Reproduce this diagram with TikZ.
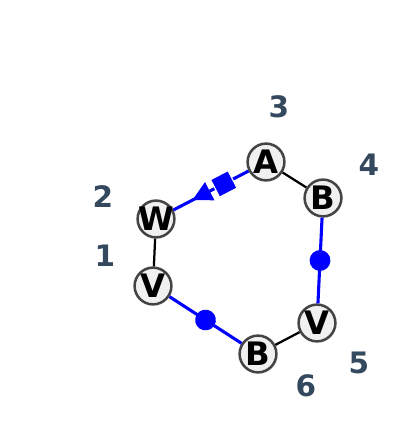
\documentclass[tikz,border=0pt]{standalone}
\usepackage{fontspec}
\setmainfont{DejaVu Sans}
\usepackage{tikz}
\usetikzlibrary{arrows.meta,positioning,decorations.markings}
\definecolor{slate}{HTML}{34495E}
\definecolor{ringgray}{HTML}{444444}
\newcommand{\atomtxt}[1]{\makebox[0pt]{#1}}
\begin{document}
\begin{tikzpicture}
[atom/.style={circle,draw=ringgray,fill=gray!12,line width=1.8pt,minimum size=0.92cm,inner sep=0pt,font=\fontsize{23}{23}\selectfont\bfseries},
 num/.style={text=slate,font=\fontsize{21}{21}\selectfont\bfseries},
 plain/.style={line width=1.6pt},
 dotbond/.style={blue,line width=2.2pt,postaction={decorate},
   decoration={markings,mark=at position 0.5 with {\fill (0,0) circle (0.26cm);}}},
 wedgebond/.style={blue,line width=2.2pt,postaction={decorate},
   decoration={markings,
     mark=at position 0.33 with {\filldraw[draw=white,line width=0.8pt] (-7pt,-7pt) rectangle (7pt,7pt);},
     mark=at position 0.75 with {\arrow[blue]{Triangle[length=14pt,width=14pt]}}}}]
  \useasboundingbox (0,0) rectangle (10,11);
  \node[atom] (1) at (3.825,3.85) {\atomtxt{V}};
  \node[atom] (2) at (3.9,5.525) {\atomtxt{W}};
  \node[atom] (3) at (6.65,6.95) {\atomtxt{A}};
  \node[atom] (4) at (8.075,6.05) {\atomtxt{B}};
  \node[atom] (5) at (7.925,2.925) {\atomtxt{V}};
  \node[atom] (6) at (6.45,2.15) {\atomtxt{B}};
%
  \node[num] (1l) at (2.625,4.6) {1};
  \node[num] (2l) at (2.575,6.075) {2};
  \node[num] (3l) at (6.975,8.325) {3};
  \node[num] (4l) at (9.225,6.875) {4};
  \node[num] (5l) at (8.975,1.925) {5};
  \node[num] (6l) at (7.65,1.35) {6};
%
  \draw[plain] (1) -- (2);
  \draw[wedgebond] (3) -- (2);
  \draw[plain] (3) -- (4);
  \draw[dotbond] (4) -- (5);
  \draw[plain] (5) -- (6);
  \draw[dotbond] (6) -- (1);
\end{tikzpicture}
\end{document}
